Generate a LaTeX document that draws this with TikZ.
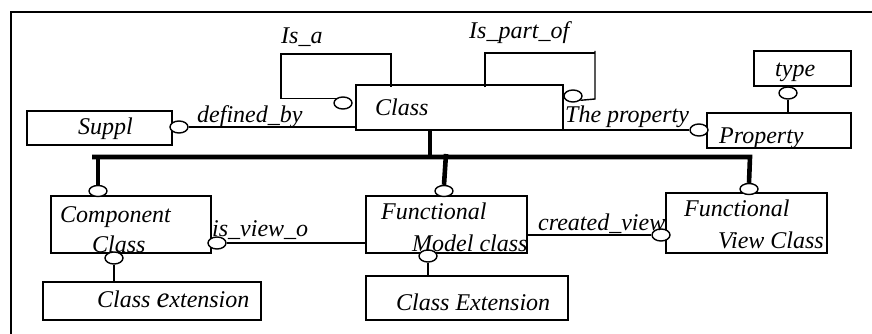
\documentclass[tikz,border=0pt]{standalone}
\usepackage{fontspec}
\setmainfont{Liberation Serif}
\usetikzlibrary{shapes.geometric}
\begin{document}
\begin{tikzpicture}[x=1pt,y=-1pt,
  box/.style={draw, line width=1.4pt, rectangle, inner sep=0pt},
  oc/.style={draw, fill=white, ellipse, minimum width=18pt, minimum height=12pt, inner sep=0pt, line width=1.4pt},
  lbl/.style={anchor=base west, inner sep=0pt, font=\fontsize{24}{26}\selectfont\itshape},
  conn/.style={line width=1.4pt},
  busline/.style={line width=4.6pt},
  frameline/.style={line width=1.5pt}]
\useasboundingbox (0,0) rectangle (872,334);
% outer frame (only top and left edges visible)
\coordinate (frTR) at (872,12);
\coordinate (frTL) at (11,12);
\coordinate (frBL) at (11,334);
\draw[frameline] (frTR) -- (frTL) -- (frBL);
% boxes
\node[box, minimum width=145pt, minimum height=34pt] (suppl) at (99.5,128) {};
\node[box, minimum width=207pt, minimum height=45pt] (class) at (459.5,107.5) {};
\node[box, minimum width=97pt, minimum height=35pt] (type) at (802.5,68.5) {};
\node[box, minimum width=144pt, minimum height=35pt] (prop) at (779,130.5) {};
\node[box, minimum width=160pt, minimum height=57pt] (comp) at (131,224.5) {};
\node[box, minimum width=161pt, minimum height=57pt] (fm) at (446.5,224.5) {};
\node[box, minimum width=161pt, minimum height=60pt] (fvc) at (746.5,223) {};
\node[box, minimum width=218pt, minimum height=38pt] (ceA) at (152,301) {};
\node[box, minimum width=202pt, minimum height=44pt] (ceB) at (467,298) {};
% coordinates for loops and bus
\coordinate (isaA) at (281,99);
\coordinate (isaB) at (281,54);
\coordinate (isaC) at (391,54);
\coordinate (ipoA) at (485,53);
\coordinate (ipoB) at (595,51);
\coordinate (ipoC) at (595,99);
\coordinate (busL) at (92,157);
\coordinate (busR) at (750,157);
\coordinate (stemC) at (430,157);
\coordinate (stemL) at (98,157);
\coordinate (stemM) at (446,154);
% connector lines (drawn before circles)
\coordinate (eSupplPos) at (179,127);
\coordinate (eIsaPos) at (343,103);
\coordinate (eIpoPos) at (573,96);
\coordinate (ePropPos) at (699,130);
\coordinate (eTypePos) at (788,93);
\coordinate (eCompTPos) at (98,191);
\coordinate (eFmTPos) at (444,191);
\coordinate (eFvcTPos) at (749,189);
\coordinate (eCompRPos) at (217,243);
\coordinate (eCompBPos) at (114,258);
\coordinate (eFmBPos) at (428,256);
\coordinate (eFvcLPos) at (661,235);
% circles
\node[oc] (eSuppl) at (eSupplPos) {};
\node[oc] (eIsa) at (eIsaPos) {};
\node[oc] (eIpo) at (eIpoPos) {};
\node[oc] (eProp) at (ePropPos) {};
\node[oc] (eType) at (eTypePos) {};
\node[oc, minimum height=11pt] (eCompT) at (eCompTPos) {};
\node[oc, minimum height=11pt] (eFmT) at (eFmTPos) {};
\node[oc, minimum height=11pt] (eFvcT) at (eFvcTPos) {};
\node[oc] (eCompR) at (eCompRPos) {};
\node[oc] (eCompB) at (eCompBPos) {};
\node[oc] (eFmB) at (eFmBPos) {};
\node[oc] (eFvcL) at (eFvcLPos) {};
% connectors
\draw[conn] (eSuppl.east) -- (eSuppl.east -| class.west);
\draw[conn] (eIsa.150) -- (eIsa.150 -| isaA) -- (isaB) -- (isaC) -- ([yshift=-3pt]isaC |- class.north);
\draw[conn] ([yshift=-3pt]ipoA |- class.north) -- (ipoA) -- (ipoA -| ipoC);
\draw[conn] (ipoB) -- (ipoC) -- (eIpo.-30);
\draw[conn] (eProp.west) -- (eProp.west -| class.east);
\draw[conn] (eType.south) -- (eType.south |- prop.north);
\draw[busline] (busL) -- (busR) -- (eFvcT.north);
\draw[busline] (stemL) -- (eCompT.north);
\draw[busline] (stemC) -- (stemC |- class.south);
\draw[busline] (stemM) -- (eFmT.north);
\draw[conn] (eCompR.east) -- (eCompR.east -| fm.west);
\draw[conn] (eCompB.south) -- (eCompB.south |- ceA.north);
\draw[conn] (eFmB.south) -- (eFmB.south |- ceB.north);
\draw[conn] (eFvcL.west) -- (eFvcL.west -| fm.east);
% labels
\node[lbl] (tIsa) at (281,44) {Is\_a};
\node[lbl] (tIpo) at (469,39) {Is\_part\_of};
\node[lbl] (tDef) at (197,122) {defined\_by};
\node[lbl] (tSuppl) at (78,135) {Suppl};
\node[lbl] (tClass) at (375,116) {Class};
\node[lbl] (tTheProp) at (565,122) {The property};
\node[lbl] (tProp) at (719,143) {Property};
\node[lbl] (tType) at (775,77) {type};
\node[lbl] (tComp1) at (60,222) {Component};
\node[lbl] (tComp2) at (92,252) {Class};
\node[lbl] (tView) at (212,236) {is\_view\_o};
\node[lbl] (tCeA) at (97,307) {Class {\fontsize{29}{29}\selectfont e}xtension};
\node[lbl] (tFm1) at (381,219) {Functional};
\node[lbl] (tFm2) at (412,251) {Model class};
\node[lbl] (tCreated) at (538,230) {created\_view};
\node[lbl] (tCeB) at (396,310) {Class Extension};
\node[lbl] (tFvc1) at (684,216) {Functional};
\node[lbl] (tFvc2) at (718,248) {View Class};
\end{tikzpicture}
\end{document}
